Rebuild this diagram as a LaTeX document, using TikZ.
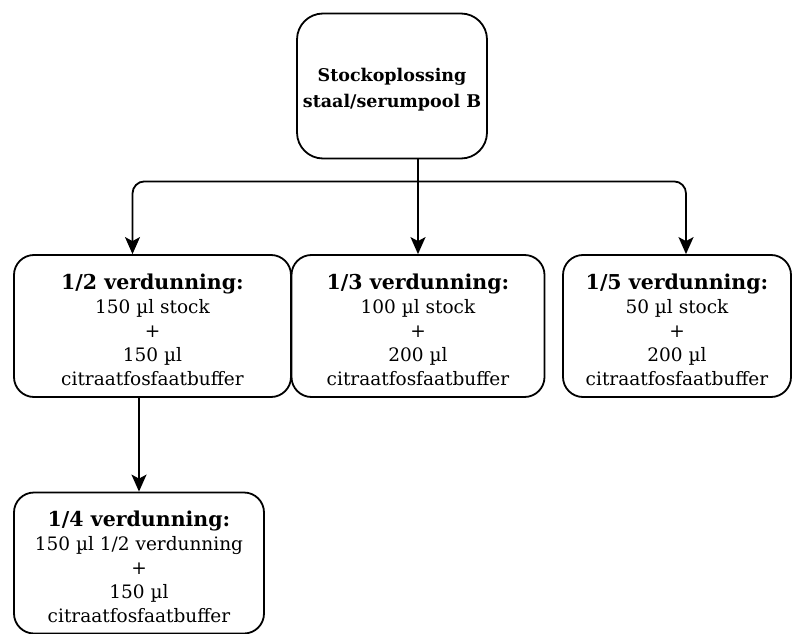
\documentclass[tikz,border=0pt]{standalone}
\usepackage{fontspec}
\setmainfont{DejaVu Serif}
\usetikzlibrary{arrows.meta,calc}
\newcommand{\hd}[1]{{\fontsize{20.5}{24}\selectfont\bfseries\rule{0pt}{22.5pt}#1}}
\begin{document}
\begin{tikzpicture}[x=1pt,y=-1pt,
  box/.style={draw, line width=1.8pt, rounded corners=20pt, align=center,
    inner sep=0pt, font=\fontsize{18.5}{24}\selectfont},
  link/.style={line width=1.8pt, -{Stealth[length=17pt,width=15pt,inset=4pt]}}]
\useasboundingbox (0,0) rectangle (795,634);
% stock solution
\node[box, rounded corners=26pt, minimum width=190pt, minimum height=145pt,
  font=\fontsize{17.5}{26}\selectfont\bfseries]
  (top) at (392,86) {\rule{0pt}{21pt}Stockoplossing\\staal/serumpool B};
% first dilution level
\node[box, minimum width=277pt, minimum height=142pt] (half) at (152.5,326)
  {\hd{1/2 verdunning:}\\150 µl stock\\+\\150 µl\\citraatfosfaatbuffer};
\node[box, minimum width=253pt, minimum height=142pt] (third) at (418,326)
  {\hd{1/3 verdunning:}\\100 µl stock\\+\\200 µl\\citraatfosfaatbuffer};
\node[box, minimum width=228pt, minimum height=142pt] (fifth) at (677,326)
  {\hd{1/5 verdunning:}\\50 µl stock\\+\\200 µl\\citraatfosfaatbuffer};
% second dilution level
\node[box, minimum width=250pt, minimum height=141pt] (quarter) at (139,563)
  {\hd{1/4 verdunning:}\\150 µl 1/2 verdunning\\+\\150 µl\\citraatfosfaatbuffer};
% connectors
\coordinate (split) at ($(top.south -| third.north)+(0,22)$);
\draw[link] (top.south -| third.north) -- (third.north);
\draw[link, rounded corners=12pt] (split) -| ($(half.north)+(-20,0)$);
\draw[link, rounded corners=12pt] (split) -| ($(fifth.north)+(9,0)$);
\draw[link] (half.south -| quarter.north) -- (quarter.north);
\end{tikzpicture}
\end{document}
